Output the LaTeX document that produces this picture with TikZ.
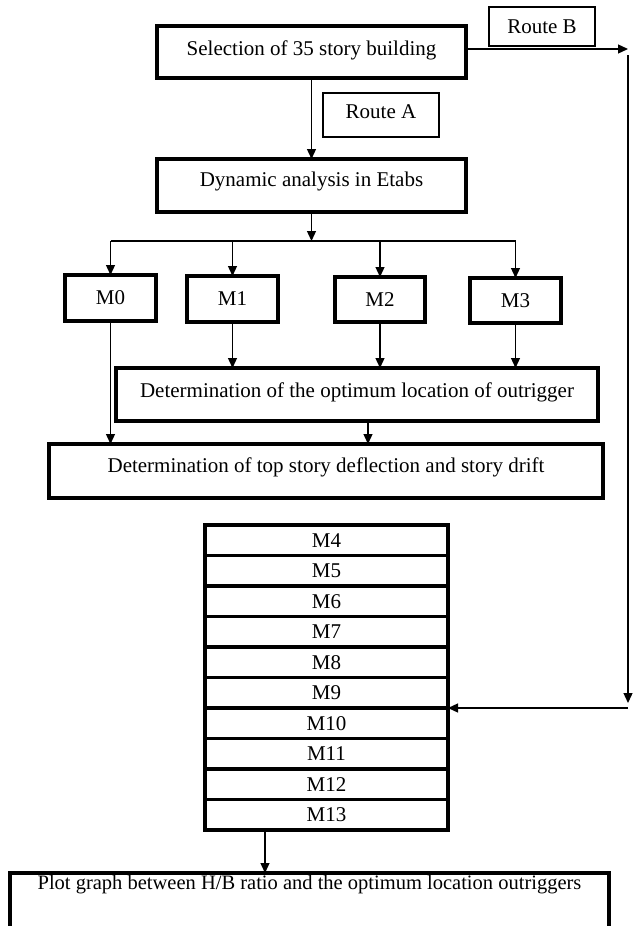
\documentclass[tikz,border=0pt]{standalone}
\usepackage{fontspec}
\setmainfont{Liberation Serif}
\usetikzlibrary{arrows.meta}
\begin{document}
\begin{tikzpicture}[x=1pt,y=-1pt,
  box/.style={draw,line width=3.2pt,rectangle,inner sep=0pt,outer sep=0pt},
  thinbox/.style={draw,line width=1.3pt,rectangle,inner sep=0pt,outer sep=0pt},
  row/.style={draw,line width=3.2pt,rectangle,inner sep=0pt,outer sep=0pt,minimum width=243pt,minimum height=30.5pt,font=\fontsize{21}{24}\selectfont},
  txt/.style={inner sep=0pt,anchor=base,font=\fontsize{21}{24}\selectfont},
  arr/.style={line width=1.3pt,-{Triangle[length=10pt,width=9pt]}},
  ln/.style={line width=1.3pt}]
\clip (0,0) rectangle (633,926);
\fill[white] (0,0) rectangle (633,926);
% top boxes
\node[box,minimum width=309pt,minimum height=52pt] (sel) at (311.5,52) {};
\node[txt] (selt) at (311.5,55) {Selection of 35 story building};
\node[thinbox,minimum width=106pt,minimum height=39pt] (rb) at (542,26.5) {};
\node[txt] (rbt) at (542,33) {Route B};
\node[thinbox,minimum width=116pt,minimum height=44pt] (ra) at (381,115) {};
\node[txt] (rat) at (381,118) {Route A};
\node[box,minimum width=309pt,minimum height=53pt] (dyn) at (311.5,185.5) {};
\node[txt] (dynt) at (311.5,186) {Dynamic analysis in Etabs};
% M0-M3
\node[box,minimum width=91pt,minimum height=46pt,font=\fontsize{21}{24}\selectfont] (m0) at (110.5,298) {M0};
\node[box,minimum width=91pt,minimum height=46pt,font=\fontsize{21}{24}\selectfont] (m1) at (232.5,299) {M1};
\node[box,minimum width=90pt,minimum height=45pt,font=\fontsize{21}{24}\selectfont] (m2) at (380,299.5) {M2};
\node[box,minimum width=91pt,minimum height=45pt,font=\fontsize{21}{24}\selectfont] (m3) at (515.5,300.5) {M3};
% optimum / deflection
\node[box,minimum width=482pt,minimum height=53pt] (opt) at (357,394.5) {};
\node[txt] (optt) at (357,397) {Determination of the optimum location of outrigger};
\node[box,minimum width=554pt,minimum height=54pt] (defl) at (326,471) {};
\node[txt] (deflt) at (326,472) {Determination of top story deflection and story drift};
% stack
\node[row] (m4) at (326.5,540.25) {M4};
\node[row] (m5) at (326.5,570.75) {M5};
\node[row] (m6) at (326.5,601.25) {M6};
\node[row] (m7) at (326.5,631.75) {M7};
\node[row] (m8) at (326.5,662.25) {M8};
\node[row] (m9) at (326.5,692.75) {M9};
\node[row] (m10) at (326.5,723.25) {M10};
\node[row] (m11) at (326.5,753.75) {M11};
\node[row] (m12) at (326.5,784.25) {M12};
\node[row] (m13) at (326.5,814.75) {M13};
% plot box
\node[box,minimum width=599pt,minimum height=70pt] (plot) at (309.5,908) {};
\node[txt,font=\fontsize{20.5}{24}\selectfont] (plott) at (309.5,889) {Plot graph between H/B ratio and the optimum location outriggers};
% coordinates
\coordinate (bus) at (0,241);
\coordinate (oa) at (368,0);
\coordinate (ma) at (265,0);
\coordinate (rbx) at (628,49);
\coordinate (rbtop) at (628,55);
\coordinate (rbbot) at (628,703);
\coordinate (rbcorner) at (628,708);
% connectors
\draw[arr] (sel.south) -- (dyn.north);
\draw[arr] (dyn.south) -- (dyn.south |- bus);
\draw[ln] (m0.north |- bus) -- (m3.north |- bus);
\draw[arr] (m0.north |- bus) -- (m0.north);
\draw[arr] (m1.north |- bus) -- (m1.north);
\draw[arr] (m2.north |- bus) -- (m2.north);
\draw[arr] (m3.north |- bus) -- (m3.north);
\draw[arr] (m1.south) -- (m1.south |- opt.north);
\draw[arr] (m2.south) -- (m2.south |- opt.north);
\draw[arr] (m3.south) -- (m3.south |- opt.north);
\draw[arr] (m0.south) -- (m0.south |- defl.north);
\draw[arr] (opt.south -| oa) -- (defl.north -| oa);
\draw[arr] (sel.east |- rbx) -- (rbx);
\draw[arr] (rbtop) -- (rbbot);
\draw[arr] (rbcorner) -- (rbcorner -| m10.east);
\draw[arr] (m13.south -| ma) -- (plot.north -| ma);
\end{tikzpicture}
\end{document}
